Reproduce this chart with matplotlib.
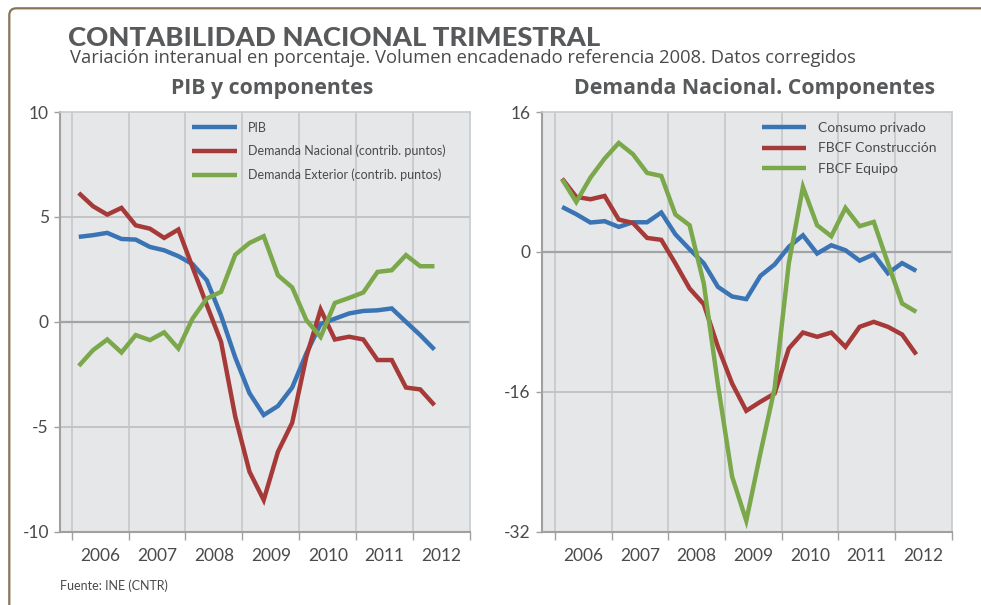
import matplotlib
matplotlib.use("Agg")
import matplotlib.pyplot as plt
from matplotlib.patches import FancyBboxPatch
from matplotlib.transforms import IdentityTransform
import numpy as np

# ---------------- data ----------------
years = [2006, 2007, 2008, 2009, 2010, 2011, 2012]
year_labels = ["2006", "2007", "2008", "2009", "2010", "2011", "2012"]
n_quarters = 26  # 2006Q1 .. 2012Q2

pib = [4.05, 4.13, 4.24, 3.95, 3.92, 3.57, 3.41, 3.13, 2.75, 1.98, 0.3, -1.7,
       -3.4, -4.44, -4.01, -3.13, -1.5, -0.1, 0.15, 0.4, 0.52, 0.55, 0.64, 0.0,
       -0.63, -1.32]
dem_nacional = [6.14, 5.51, 5.11, 5.43, 4.6, 4.44, 4.0, 4.4, 2.6, 0.8, -0.95,
                -4.52, -7.14, -8.49, -6.19, -4.81, -1.65, 0.59, -0.84, -0.71,
                -0.84, -1.82, -1.82, -3.13, -3.22, -3.97]
dem_exterior = [-2.1, -1.35, -0.84, -1.46, -0.63, -0.87, -0.5, -1.27, 0.16, 1.11,
                1.43, 3.2, 3.76, 4.08, 2.22, 1.64, 0.08, -0.72, 0.9, 1.14, 1.4,
                2.38, 2.46, 3.18, 2.65, 2.65]

consumo = [5.14, 4.31, 3.36, 3.51, 2.86, 3.39, 3.39, 4.5, 2.0, 0.3, -1.3, -4.0,
           -5.1, -5.4, -2.74, -1.44, 0.57, 1.9, -0.19, 0.76, 0.19, -1.0, -0.28,
           -2.45, -1.28, -2.17]
construccion = [8.38, 6.29, 6.02, 6.4, 3.7, 3.31, 1.6, 1.38, -1.33, -4.19, -5.98,
                -10.86, -15.05, -18.17, -17.14, -16.19, -11.05, -9.22, -9.71,
                -9.22, -10.86, -8.57, -8.0, -8.57, -9.45, -11.73]
equipo = [8.31, 5.71, 8.5, 10.67, 12.46, 11.17, 9.03, 8.69, 4.27, 3.05, -3.6,
          -15.2, -25.7, -30.74, -23.0, -15.6, -1.33, 7.43, 3.05, 1.79, 5.03,
          2.94, 3.43, -1.3, -5.9, -6.86]

left_labels = ["PIB", "Demanda Nacional (contrib. puntos)",
               "Demanda Exterior (contrib. puntos)"]
right_labels = ["Consumo privado", "FBCF Construcción", "FBCF Equipo"]

left_yticks = [-10, -5, 0, 5, 10]
right_yticks = [-32, -16, 0, 16]

# ---------------- style ----------------
BLUE = "#3b74b5"
RED = "#a63a39"
GREEN = "#7aa84b"
TXT = "#4a4a4c"
TITLE = "#58595b"
BG = "#e6e7e9"
FONT = "Lato"
HFONT = ["Open Sans", "DejaVu Sans"]

plt.rcParams["font.family"] = [FONT, "DejaVu Sans"]

W, H = 981, 605
fig = plt.figure(figsize=(W / 100, H / 100), dpi=100)
fig.patch.set_facecolor("white")

# frame
fig.patches.append(FancyBboxPatch((9.3, -60), 1100, 605 - 8.3 + 60,
                                  boxstyle="round,pad=0,rounding_size=7",
                                  transform=IdentityTransform(),
                                  facecolor="none", edgecolor="#8a7457",
                                  linewidth=1.6, zorder=0))

title = fig.text(68 / W, 1 - 45.5 / H, "CONTABILIDAD NACIONAL TRIMESTRAL",
                 fontsize=18, fontweight="black", color=TITLE, va="baseline",
                 ha="left", family=[FONT, "DejaVu Sans"])
subtitle = fig.text(70 / W, 1 - 63 / H,
                    "Variación interanual en porcentaje. Volumen encadenado referencia 2008. Datos corregidos",
                    fontsize=12.6, color=TXT, va="baseline", ha="left", family=HFONT)
fig.text(60 / W, 1 - 590 / H, "Fuente: INE (CNTR)", fontsize=9, color=TXT,
         va="baseline", ha="left")


def fit_width(txt, target_px):
    r = fig.canvas.get_renderer()
    w = txt.get_window_extent(renderer=r).width
    txt.set_fontsize(txt.get_fontsize() * target_px / w)


fit_width(title, 530)
fit_width(subtitle, 787)

x = 2006 + (np.arange(n_quarters) + 0.5) / 4.0


def setup(ax, xlim, ylim, yticks, title, title_x):
    ax.set_facecolor(BG)
    ax.set_xlim(*xlim)
    ax.set_ylim(*ylim)
    major = list(years) + [2013]
    ax.set_xticks(major)
    ax.set_xticklabels([])
    ax.set_xticks([yy + 0.5 for yy in years], minor=True)
    ax.set_xticklabels(year_labels, minor=True)
    ax.tick_params(axis="x", which="major", length=6, width=1, color="#a0a0a0",
                   direction="out")
    ax.tick_params(axis="x", which="minor", length=0, pad=12, labelsize=12.5,
                   labelcolor=TXT)
    ax.set_yticks(yticks)
    ax.set_yticklabels([str(t) for t in yticks])
    ax.tick_params(axis="y", length=4, width=1, color="#a0a0a0", direction="out",
                   pad=4, labelsize=12.5, labelcolor=TXT)
    for yy in years:
        ax.axvline(yy, color="#c6c7c9", lw=1.2, zorder=1)
    for t in yticks:
        if t == 0:
            ax.axhline(t, color="#a3a4a6", lw=1.6, zorder=1)
        elif t not in (ylim[0], ylim[1]):
            ax.axhline(t, color="#c3c4c6", lw=1.4, zorder=1)
    for s in ("left", "bottom"):
        ax.spines[s].set_color("#a0a0a0")
        ax.spines[s].set_linewidth(1.5)
    for s in ("top", "right"):
        ax.spines[s].set_color("#c8c9cb")
        ax.spines[s].set_linewidth(1.2)
    fig.text(title_x / W, 1 - 94.5 / H, title, fontsize=15.3, fontweight="bold",
             color=TITLE, ha="center", va="baseline", family=HFONT)


ax1 = fig.add_axes([60 / W, 1 - 531.7 / H, 410 / W, 419.7 / H])
setup(ax1, (2005.795, 2013.0), (-10, 10), left_yticks, "PIB y componentes", 272)
for vals, col, lab in zip([pib, dem_nacional, dem_exterior], [BLUE, RED, GREEN],
                          left_labels):
    ax1.plot(x, vals, color=col, lw=3.2, label=lab, zorder=3,
             solid_joinstyle="miter", solid_capstyle="butt")
leg1 = ax1.legend(loc="upper left", bbox_to_anchor=((192 - 60) / 410, 1 - 9.5 / 419.7),
                  frameon=False, fontsize=9, handlelength=3.6, handletextpad=0.9,
                  labelspacing=0.9, borderpad=0, borderaxespad=0)
for t in leg1.get_texts():
    t.set_color(TXT)

ax2 = fig.add_axes([541.7 / W, 1 - 531.7 / H, 410 / W, 419.7 / H])
setup(ax2, (2005.765, 2013.0), (-32, 16), right_yticks,
      "Demanda Nacional. Componentes", 754)
for vals, col, lab in zip([consumo, construccion, equipo], [BLUE, RED, GREEN],
                          right_labels):
    ax2.plot(x, vals, color=col, lw=3.2, label=lab, zorder=3,
             solid_joinstyle="miter", solid_capstyle="butt")
leg2 = ax2.legend(loc="upper left", bbox_to_anchor=((762 - 541.7) / 410, 1 - 9.5 / 419.7),
                  frameon=False, fontsize=10, handlelength=3.2, handletextpad=0.8,
                  labelspacing=0.64, borderpad=0, borderaxespad=0)
for t in leg2.get_texts():
    t.set_color(TXT)

fig.savefig("out.png", dpi=100, facecolor="white")
